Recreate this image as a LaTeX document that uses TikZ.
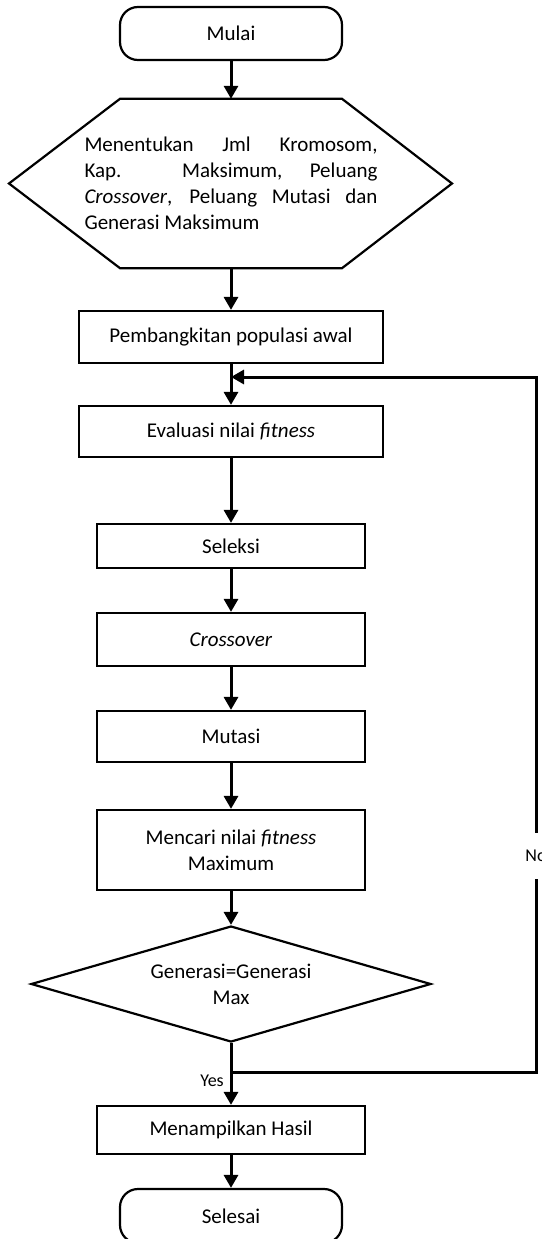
\documentclass[tikz,border=0pt]{standalone}
\usepackage{fontspec}
\setmainfont{Carlito}
\usetikzlibrary{arrows.meta,shapes.geometric,calc}

\begin{document}
\begin{tikzpicture}[x=1pt, y=-1pt, >={Triangle[width=14pt,length=13pt]},
  font=\fontsize{21}{26}\selectfont,
  process/.style={rectangle, draw, line width=2.2pt, minimum width=268pt, minimum height=51pt, align=center},
  terminal/.style={rectangle, draw, line width=2.2pt, rounded corners=18pt, minimum width=222pt, minimum height=53pt},
  decision/.style={diamond, draw, line width=2.2pt, aspect=3.45, minimum width=400pt, minimum height=116pt, align=center, inner sep=0pt},
  flow/.style={->, line width=3pt},
  loopline/.style={line width=3pt},
  answer/.style={font=\fontsize{18}{22}\selectfont}
  ]
\useasboundingbox (0,0) rectangle (541,1239);

% Start and parameters
\node[terminal] (start) at (231,33.5) {Mulai};

\node[inner sep=0pt, minimum height=169pt, text width=293pt, align=justify] (param) at (231,183.5)
  {Menentukan Jml Kromosom,\linebreak Kap. Maksimum, Peluang\linebreak \textit{Crossover}, Peluang Mutasi dan\linebreak Generasi Maksimum};
\draw[line width=2.2pt] ($(param.north)+(-111,0)$) -- ($(param.north)+(111,0)$) -- ($(param.center)+(221,0)$)
  -- ($(param.south)+(111,0)$) -- ($(param.south)+(-111,0)$) -- ($(param.center)+(-222,0)$) -- cycle;

% Main loop
\node[process, minimum width=304pt, minimum height=52pt] (init) at (231,337) {Pembangkitan populasi awal};
\node[process, minimum width=304pt] (eval) at (231,431.5) {Evaluasi nilai \textit{fitness}};
\node[process, minimum height=44pt] (select) at (231,546) {Seleksi};
\node[process, minimum height=53pt] (cross) at (231,639.5) {\textit{Crossover}};
\node[process] (mutate) at (231,736.5) {Mutasi};
\node[process, minimum height=80pt] (best) at (231,850) {Mencari nilai \textit{fitness}\\Maximum};
\node[decision] (check) at (231,984) {Generasi=Generasi\\Max};

% End
\node[process, minimum height=48pt] (show) at (231,1130) {Menampilkan Hasil};
\node[terminal, minimum height=54pt] (stop) at (231,1216) {Selesai};

\draw[flow] (start) -- (param);
\draw[flow] (param) -- (init);
\draw[flow] (init) -- (eval);
\draw[flow] (eval) -- (select);
\draw[flow] (select) -- (cross);
\draw[flow] (cross) -- (mutate);
\draw[flow] (mutate) -- (best);
\draw[flow] (best) -- (check);
\draw[flow] (check) -- (show);
\draw[flow] (show) -- (stop);

% Back to evaluation
\coordinate (yes) at (231,1072);
\coordinate (back) at (231,377);
\node[answer] (yeslbl) at (212,1081) {Yes};
\node[answer, minimum height=46pt, inner sep=0pt] (no) at (536,856) {No};
\draw[loopline] (yes) -| (no.south);
\draw[flow] (no.north) |- (back);

\end{tikzpicture}
\end{document}
